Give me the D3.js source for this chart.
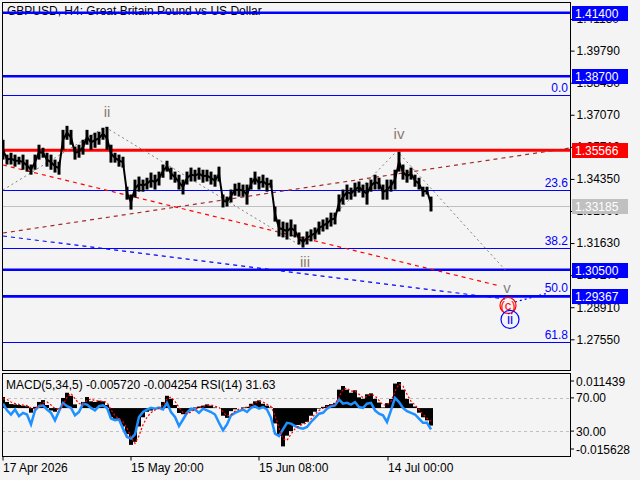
<!DOCTYPE html>
<html>
<head>
<meta charset="utf-8">
<script src="https://cdn.jsdelivr.net/npm/d3@7"></script>
<style>
  body { margin: 0; background: #f4f4f4; }
  text { font-family: "Liberation Sans", Arial, sans-serif; }
</style>
</head>
<body>
<svg id="chart"></svg>
<script>
// Chart size
const width = 640, height = 480;

// Price samples (every 4th H4 bar), high and low
const priceHigh = [1.3601,1.3538,1.3546,1.3538,1.3529,1.3538,1.3517,1.3496,1.3538,1.3580,1.3567,1.3546,1.3538,1.3517,1.3508,1.3643,1.3660,1.3643,1.3572,1.3580,1.3601,1.3643,1.3622,1.3631,1.3635,1.3652,1.3656,1.3580,1.3546,1.3538,1.3529,1.3402,1.3369,1.3432,1.3445,1.3432,1.3440,1.3462,1.3453,1.3466,1.3496,1.3512,1.3483,1.3466,1.3453,1.3432,1.3466,1.3483,1.3474,1.3483,1.3474,1.3474,1.3466,1.3453,1.3487,1.3369,1.3360,1.3390,1.3415,1.3419,1.3411,1.3411,1.3440,1.3466,1.3445,1.3453,1.3440,1.3432,1.3318,1.3263,1.3254,1.3250,1.3263,1.3242,1.3208,1.3191,1.3212,1.3221,1.3229,1.3254,1.3263,1.3271,1.3292,1.3292,1.3369,1.3390,1.3411,1.3398,1.3419,1.3424,1.3411,1.3419,1.3432,1.3453,1.3440,1.3411,1.3432,1.3432,1.3474,1.3550,1.3496,1.3474,1.3483,1.3453,1.3440,1.3402,1.3402,1.3360];
const priceLow = [1.3517,1.3496,1.3496,1.3487,1.3496,1.3474,1.3466,1.3453,1.3474,1.3517,1.3525,1.3487,1.3474,1.3462,1.3453,1.3559,1.3601,1.3580,1.3517,1.3525,1.3538,1.3580,1.3559,1.3567,1.3580,1.3601,1.3559,1.3504,1.3504,1.3487,1.3483,1.3347,1.3305,1.3356,1.3381,1.3381,1.3390,1.3398,1.3390,1.3407,1.3440,1.3466,1.3432,1.3419,1.3390,1.3369,1.3411,1.3424,1.3424,1.3432,1.3419,1.3424,1.3411,1.3402,1.3424,1.3314,1.3318,1.3335,1.3364,1.3360,1.3360,1.3326,1.3390,1.3411,1.3390,1.3398,1.3381,1.3398,1.3254,1.3191,1.3187,1.3178,1.3191,1.3187,1.3157,1.3144,1.3157,1.3170,1.3178,1.3199,1.3212,1.3221,1.3233,1.3242,1.3297,1.3326,1.3347,1.3347,1.3360,1.3377,1.3356,1.3326,1.3381,1.3390,1.3390,1.3347,1.3347,1.3381,1.3390,1.3466,1.3432,1.3419,1.3432,1.3402,1.3390,1.3360,1.3369,1.3297];

// MACD(5,34,5) main, signal and RSI(14) at the same samples
const macdMain = [0.0036,0.0020,0.0013,0.0012,0.0010,0.0008,0.0006,-0.0015,0.0004,0.0020,0.0026,0.0010,-0.0008,-0.0012,-0.0002,0.0033,0.0050,0.0040,0.0012,0.0000,0.0020,0.0036,0.0022,0.0020,0.0024,0.0022,0.0010,-0.0030,-0.0035,-0.0040,-0.0060,-0.0085,-0.0120,-0.0110,-0.0060,-0.0030,-0.0012,-0.0008,0.0000,0.0004,0.0020,0.0040,0.0030,0.0010,-0.0016,-0.0020,-0.0015,-0.0008,0.0002,0.0005,0.0008,0.0012,0.0008,0.0002,0.0000,-0.0025,-0.0032,-0.0010,-0.0004,0.0000,0.0002,0.0004,0.0014,0.0022,0.0025,0.0014,0.0008,0.0002,-0.0050,-0.0090,-0.0125,-0.0090,-0.0075,-0.0055,-0.0055,-0.0050,-0.0045,-0.0025,-0.0012,-0.0002,0.0004,0.0010,0.0013,0.0017,0.0060,0.0072,0.0060,0.0050,0.0058,0.0035,0.0030,0.0045,0.0048,0.0030,0.0018,0.0002,0.0016,0.0030,0.0080,0.0085,0.0060,0.0030,0.0015,0.0005,-0.0015,-0.0030,-0.0040,-0.0057];
const macdSignal = [0.0030,0.0028,0.0020,0.0015,0.0012,0.0010,0.0008,0.0000,-0.0002,0.0008,0.0018,0.0020,0.0010,-0.0002,-0.0006,0.0010,0.0035,0.0048,0.0030,0.0015,0.0012,0.0025,0.0030,0.0024,0.0022,0.0023,0.0018,-0.0005,-0.0025,-0.0035,-0.0045,-0.0065,-0.0095,-0.0115,-0.0090,-0.0055,-0.0030,-0.0015,-0.0006,0.0000,0.0010,0.0030,0.0036,0.0022,0.0002,-0.0014,-0.0018,-0.0013,-0.0004,0.0002,0.0005,0.0009,0.0010,0.0006,0.0002,-0.0012,-0.0026,-0.0022,-0.0010,-0.0003,0.0000,0.0002,0.0008,0.0017,0.0023,0.0020,0.0012,0.0005,-0.0025,-0.0065,-0.0100,-0.0105,-0.0085,-0.0068,-0.0058,-0.0053,-0.0048,-0.0035,-0.0020,-0.0008,0.0000,0.0006,0.0010,0.0014,0.0035,0.0062,0.0065,0.0055,0.0055,0.0045,0.0034,0.0038,0.0045,0.0040,0.0025,0.0010,0.0010,0.0022,0.0055,0.0078,0.0072,0.0045,0.0022,0.0010,-0.0005,-0.0020,-0.0033,-0.0043];
const rsi = [63,55,50,56,48,52,50,38,55,60,61,56,52,43,54,64,60,58,49,53,63,62,58,55,60,61,58,45,43,44,33,23,21,26,47,53,56,58,57,58,56,64,53,47,36,44,52,57,56,52,57,55,53,50,40,31,38,49,52,54,56,53,58,60,57,59,56,46,27,24,32,40,39,36,34,33,35,41,46,51,52,57,60,61,68,63,64,62,65,59,58,63,64,55,51,49,41,55,70,65,58,54,52,50,45,40,40,32];

// Axis ticks
const priceTicks = [1.41130,1.39790,1.38430,1.37070,1.35710,1.34350,1.32990,1.31630,1.30270,1.28910,1.27550];
const dateTickBars = [0,128,256,385];
const dateTickLabels = ["17 Apr 2026","15 May 20:00","15 Jun 08:00","14 Jul 00:00"];

// Horizontal levels and price tags
const levelPrices = [1.41400,1.38700,1.35566,1.30500,1.29367];
const currentPrice = 1.33185;

// Fibonacci retracement
const fibHigh = 1.37900, fibLow = 1.20940;
const fibRatios = [0.0,23.6,38.2,50.0,61.8];

// Wave path (bar, price) and labels
const waveBars = [1,103,301,395,503];
const wavePrices = [1.33880,1.36551,1.31463,1.35533,1.30500];
const waveNames = ["","ii","iii","iv","v"];

// Trend lines: [bar1, price1, bar2, price2]
const redLine = [1,1.34940,498,1.29810];
const brownLine = [1,1.32057,568,1.35661];
const blueLine = [1,1.31930,503,1.29259];
const blueShort = [513,1.29131,546,1.29513];

const svg = d3.select("#chart").attr("width", width).attr("height", height);
svg.append("rect").attr("width", width).attr("height", height).attr("fill", "#f4f4f4");

const left = 2, right = 570, mainTop = 2, mainBottom = 371, indTop = 373, indBottom = 456;

const x = d3.scaleLinear().domain([0, 568]).range([left, right]);
const y = d3.scaleLinear().domain([1.26206, 1.41851]).range([mainBottom, mainTop]);
const yMacd = d3.scaleLinear().domain([-0.015628, 0.011439]).range([indBottom, indTop]);
const yRsi = d3.scaleLinear().domain([0, 100]).range([indBottom, indTop]);

const sampleBar = i => i * 4 + 1;
const n = Math.min(priceHigh.length, priceLow.length);

// Clip to main panel
svg.append("clipPath").attr("id", "mainClip").append("rect")
    .attr("x", left).attr("y", mainTop).attr("width", right - left).attr("height", mainBottom - mainTop);
const main = svg.append("g").attr("clip-path", "url(#mainClip)");

// Title
main.append("text").attr("x", 7).attr("y", 15).attr("font-size", 12).attr("fill", "#000")
    .text("GBPUSD, H4:  Great Britain Pound vs US Dollar");

// Fibonacci levels
fibRatios.forEach(r => {
    const p = fibHigh - r / 100 * (fibHigh - fibLow);
    main.append("line").attr("x1", left).attr("x2", right)
        .attr("y1", Math.round(y(p)) + 0.5).attr("y2", Math.round(y(p)) + 0.5)
        .attr("stroke", "#0000ff").attr("stroke-width", 1);
    main.append("text").attr("x", 568).attr("y", y(p) - 3).attr("text-anchor", "end")
        .attr("font-size", 12).attr("fill", "#0000ff").text(r.toFixed(1));
});

// Current price line
main.append("line").attr("x1", left).attr("x2", right)
    .attr("y1", Math.round(y(currentPrice)) + 0.5).attr("y2", Math.round(y(currentPrice)) + 0.5)
    .attr("stroke", "#c0c0c0");

// Support / resistance levels
const levelColor = p => p === 1.35566 ? "#ff0000" : "#0000ff";
const levelWidth = p => p === 1.35566 ? 3 : 2.5;
levelPrices.forEach(p => {
    main.append("line").attr("x1", left).attr("x2", right)
        .attr("y1", y(p)).attr("y2", y(p))
        .attr("stroke", levelColor(p)).attr("stroke-width", levelWidth(p));
});

// Trend lines
function trend(l, color, dash, w) {
    main.append("line").attr("x1", x(l[0])).attr("y1", y(l[1]))
        .attr("x2", x(l[2])).attr("y2", y(l[3]))
        .attr("stroke", color).attr("stroke-width", w || 1.2).attr("stroke-dasharray", dash);
}
trend(brownLine, "#a52a2a", "4,4");
trend(redLine, "#ff0000", "4,4");
trend(blueLine, "#0000ff", "4,4");
trend(blueShort, "#0000ff", "2,3");

// Wave zigzag
main.append("path")
    .attr("d", d3.line().x((d, i) => x(waveBars[i])).y(d => y(d))(wavePrices))
    .attr("fill", "none").attr("stroke", "#808080").attr("stroke-width", 1).attr("stroke-dasharray", "2,3");

// Price bars: high-low spans joined by a mid line
const pts = d3.range(n);
main.append("path")
    .attr("d", d3.line().x(i => x(sampleBar(i))).y(i => (y(priceHigh[i]) + y(priceLow[i])) / 2)(pts))
    .attr("fill", "none").attr("stroke", "#000").attr("stroke-width", 2);
main.append("g").selectAll("rect").data(pts).enter().append("rect")
    .attr("x", i => x(sampleBar(i)) - 1.5).attr("width", 3)
    .attr("y", i => y(priceHigh[i])).attr("height", i => y(priceLow[i]) - y(priceHigh[i]))
    .attr("fill", "#000");

// Wave labels
const waveOffset = [0, -15, 15, -17, 18];
waveNames.forEach((t, i) => {
    if (!t) return;
    main.append("text").attr("x", x(waveBars[i]) + 2).attr("y", y(wavePrices[i]) + waveOffset[i] + 5)
        .attr("text-anchor", "middle").attr("font-size", 15)
        .attr("fill", t === "v" ? "#808080" : "#8c7b6c").text(t);
});
// Circled (c) and ii at the 1.29367 target
main.append("circle").attr("cx", 508).attr("cy", y(1.29367) + 9).attr("r", 8)
    .attr("fill", "none").attr("stroke", "#ff0000").attr("stroke-width", 1.2);
main.append("text").attr("x", 508).attr("y", y(1.29367) + 13.5).attr("text-anchor", "middle")
    .attr("font-size", 13).attr("fill", "#ff0000").text("(c)");
main.append("circle").attr("cx", 510).attr("cy", y(1.29367) + 23).attr("r", 9)
    .attr("fill", "none").attr("stroke", "#0000ff").attr("stroke-width", 1.2);
main.append("text").attr("x", 510).attr("y", y(1.29367) + 28).attr("text-anchor", "middle")
    .attr("font-size", 14).attr("fill", "#0000ff").text("ii");

// Indicator panel
svg.append("clipPath").attr("id", "indClip").append("rect")
    .attr("x", left).attr("y", indTop).attr("width", right - left).attr("height", indBottom - indTop);
const ind = svg.append("g").attr("clip-path", "url(#indClip)");

[70, 30].forEach(v => {
    ind.append("line").attr("x1", left).attr("x2", right)
        .attr("y1", Math.round(yRsi(v)) + 0.5).attr("y2", Math.round(yRsi(v)) + 0.5)
        .attr("stroke", "#c0c0c0").attr("stroke-dasharray", "3,3");
});
ind.append("g").selectAll("rect").data(pts).enter().append("rect")
    .attr("x", i => x(sampleBar(i)) - 2).attr("width", 4)
    .attr("y", i => Math.min(yMacd(macdMain[i]), yMacd(0)))
    .attr("height", i => Math.abs(yMacd(macdMain[i]) - yMacd(0)))
    .attr("fill", "#000");
ind.append("path")
    .attr("d", d3.line().x((d, i) => x(sampleBar(i))).y(d => yRsi(d))(rsi))
    .attr("fill", "none").attr("stroke", "#1e90ff").attr("stroke-width", 2.5);
ind.append("path")
    .attr("d", d3.line().x((d, i) => x(sampleBar(i))).y(d => yMacd(d))(macdSignal))
    .attr("fill", "none").attr("stroke", "#ff0000").attr("stroke-width", 1.2).attr("stroke-dasharray", "2,2");
ind.append("text").attr("x", 6).attr("y", 389).attr("font-size", 12).attr("fill", "#000")
    .text("MACD(5,34,5) -0.005720 -0.004254 RSI(14) 31.63");

// Panel borders
svg.append("rect").attr("x", left + 0.5).attr("y", mainTop + 0.5)
    .attr("width", right - left).attr("height", mainBottom - mainTop - 1)
    .attr("fill", "none").attr("stroke", "#000");
svg.append("rect").attr("x", left + 0.5).attr("y", indTop + 0.5)
    .attr("width", right - left).attr("height", indBottom - indTop)
    .attr("fill", "none").attr("stroke", "#000");

// Price axis
const yAxis = d3.axisRight(y).tickValues(priceTicks).tickFormat(d3.format(".5f")).tickSize(4).tickPadding(2);
svg.append("g").attr("transform", `translate(${right + 0.5},0)`).call(yAxis)
    .call(g => g.select(".domain").remove())
    .call(g => g.selectAll("text").attr("font-size", 12).attr("font-family", "Liberation Sans, Arial").attr("fill", "#000"))
    .call(g => g.selectAll("line").attr("stroke", "#000"));

// Price tags
const tagColor = p => p === 1.35566 ? "#ff0000" : "#0000ff";
function tag(p, color) {
    const cy = Math.round(y(p));
    svg.append("rect").attr("x", 572).attr("y", cy - 7).attr("width", 56).attr("height", 15).attr("fill", color);
    svg.append("text").attr("x", 575).attr("y", cy + 5).attr("font-size", 12).attr("fill", "#fff").text(p.toFixed(5));
}
levelPrices.forEach(p => tag(p, tagColor(p)));
tag(currentPrice, "#c0c0c0");

// Indicator axis labels
const indTicks = [[yMacd(0.011439) + 8, "0.011439"], [yRsi(70), "70.00"], [yRsi(30), "30.00"], [yMacd(-0.015628) - 7, "-0.015628"]];
indTicks.forEach(([ty, t]) => {
    svg.append("line").attr("x1", right).attr("x2", right + 4).attr("y1", ty).attr("y2", ty).attr("stroke", "#000");
    svg.append("text").attr("x", right + 6).attr("y", ty + 4.5).attr("font-size", 12).attr("fill", "#000").text(t);
});

// Date axis
const xAxis = d3.axisBottom(x).tickValues(dateTickBars).tickFormat((d, i) => dateTickLabels[i]).tickSize(4).tickPadding(3);
svg.append("g").attr("transform", `translate(0.5,${indBottom + 0.5})`).call(xAxis)
    .call(g => g.select(".domain").remove())
    .call(g => g.selectAll("line").attr("stroke", "#000"))
    .call(g => g.selectAll("text").attr("text-anchor", "start").attr("dx", 0).attr("font-size", 12)
        .attr("font-family", "Liberation Sans, Arial").attr("fill", "#000"));
</script>
</body>
</html>
